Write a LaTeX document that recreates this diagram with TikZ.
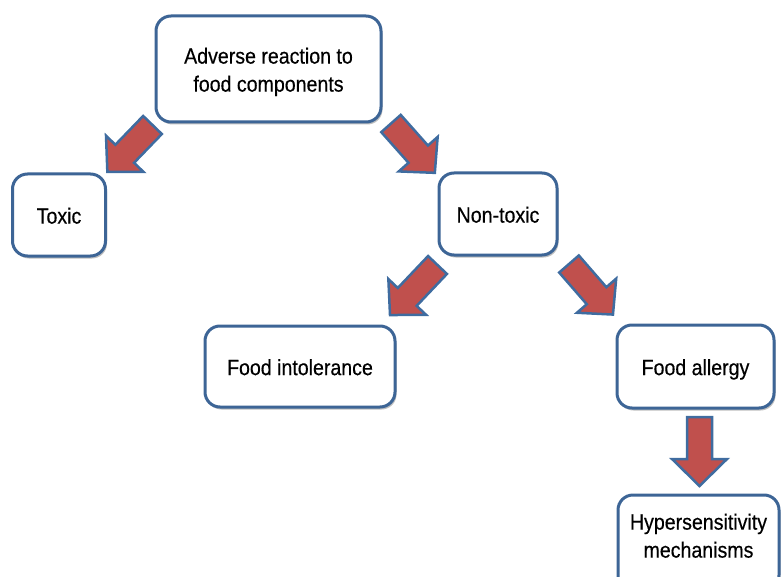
\documentclass[tikz,border=0pt]{standalone}
\usepackage{fontspec}
\setmainfont[FakeStretch=0.89, FakeBold=0.4]{Liberation Sans}
\usetikzlibrary{shadows}
\definecolor{boxblue}{HTML}{3D6596}
\definecolor{arrred}{HTML}{C0504D}
\definecolor{arrblue}{HTML}{3F6CA0}
\tikzset{
  box/.style={draw=boxblue, line width=3pt, fill=white, rounded corners=15pt,
    inner sep=0pt, font=\fontsize{22}{28}\selectfont,
    drop shadow={shadow xshift=1.5pt, shadow yshift=-2.5pt, opacity=0.25, fill=black}},
  blockarr/.style={draw=arrblue, line width=2.5pt, fill=arrred, line join=miter}
}
\newcommand{\boxtext}[2]{\raisebox{#1}[\height][\depth]{\begin{tabular}{@{}c@{}}#2\end{tabular}}}
\newcommand{\blockarrow}[6]{% tail, angle, length, shaft half, head half, head length
  \begin{scope}[shift={(#1)}, rotate=#2]
    \draw[blockarr] (0,-#4) -- ({#3-#6},-#4) -- ({#3-#6},-#5) -- (#3,0)
      -- ({#3-#6},#5) -- ({#3-#6},#4) -- (0,#4) -- cycle;
  \end{scope}}
\begin{document}
\begin{tikzpicture}[x=1pt, y=-1pt]
\useasboundingbox (0,0) rectangle (783,577);
\clip (0,0) rectangle (783,577);
% block arrows
\coordinate (t1) at (152.5,125);
\coordinate (t2) at (391,123.5);
\coordinate (t3) at (437.5,265);
\coordinate (t4) at (569,264);
\coordinate (t5) at (699.5,417);
\blockarrow{t1}{-134}{65}{13}{26}{25}
\blockarrow{t2}{-48.4}{66}{13}{26}{25}
\blockarrow{t3}{-133.5}{69}{13}{26}{25}
\blockarrow{t4}{-49}{67}{13}{26}{25}
\blockarrow{t5}{-90}{69}{12.5}{27.5}{27}
% boxes
\node[box, minimum width=225pt, minimum height=106pt] (adverse) at (268.5,69)
  {\boxtext{-3pt}{Adverse reaction to\\food components}};
\node[box, minimum width=93pt, minimum height=82pt] (toxic) at (59,215) {\boxtext{-3pt}{Toxic}};
\node[box, minimum width=118pt, minimum height=82pt] (nontoxic) at (498,214) {\boxtext{-3pt}{Non-toxic}};
\node[box, minimum width=190pt, minimum height=81pt] (intol) at (300,366.5) {\boxtext{-3pt}{Food intolerance}};
\node[box, minimum width=157pt, minimum height=83pt] (allergy) at (695.5,366.5) {\boxtext{-3pt}{Food allergy}};
\node[box, minimum width=161pt, minimum height=95pt] (hyper) at (698.5,542.5)
  {\boxtext{4.5pt}{Hypersensitivity\\mechanisms}};
\end{tikzpicture}
\end{document}
